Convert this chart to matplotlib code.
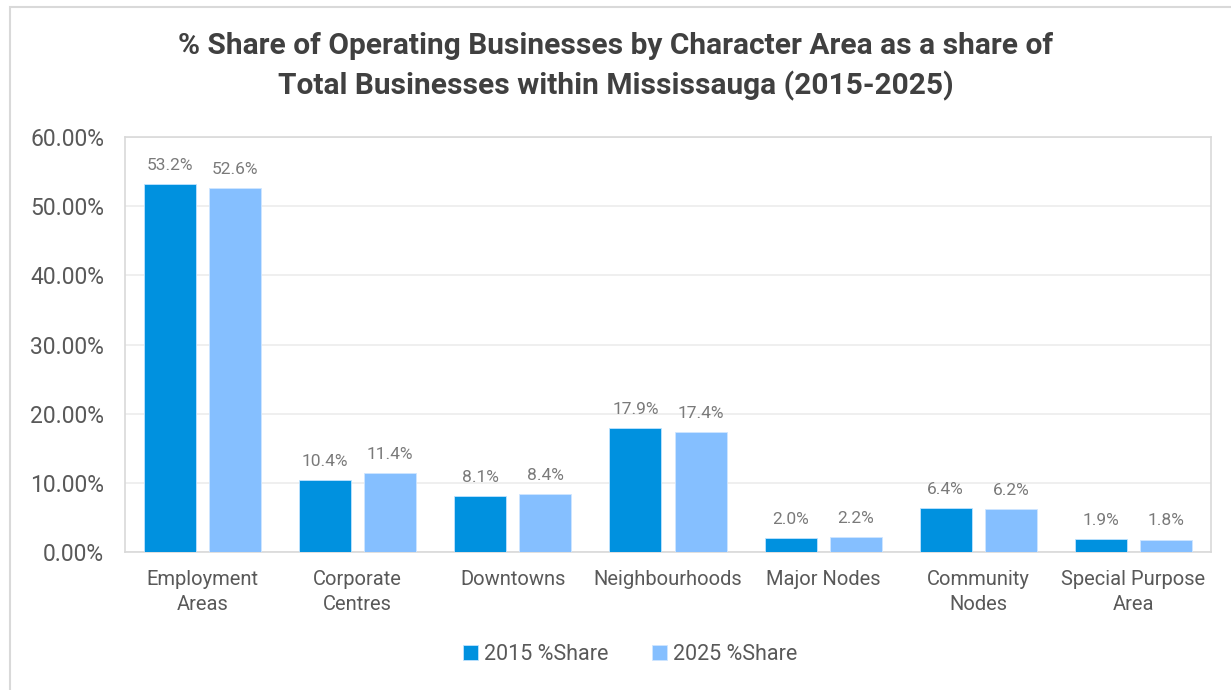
import matplotlib.pyplot as plt
import numpy as np
from matplotlib.patches import Rectangle

categories = ["Employment\nAreas", "Corporate\nCentres", "Downtowns", "Neighbourhoods",
              "Major Nodes", "Community\nNodes", "Special Purpose\nArea"]
share_2015 = [53.2, 10.4, 8.1, 17.9, 2.0, 6.4, 1.9]
share_2025 = [52.6, 11.4, 8.4, 17.4, 2.2, 6.2, 1.8]
series_names = ["2015 %Share", "2025 %Share"]

c2015 = "#0091DF"
c2025 = "#85BFFF"
grey = "#595959"

plt.rcParams['font.family'] = ['Roboto', 'DejaVu Sans']

fig = plt.figure(figsize=(12.31, 6.9), dpi=100)
ax = fig.add_axes([0.1015, 0.2, 0.8823, 0.6014])

x = np.arange(len(categories))
w = 0.335
b1 = ax.bar(x - 0.21, share_2015, w, color=c2015, edgecolor="#bfe3ff", linewidth=0.6,
            label=series_names[0], zorder=3)
b2 = ax.bar(x + 0.21, share_2025, w, color=c2025, edgecolor="#cfe6ff", linewidth=0.6,
            label=series_names[1], zorder=3)

for bars, vals in ((b1, share_2015), (b2, share_2025)):
    for rect, v in zip(bars, vals):
        ax.annotate("{:.1f}%".format(v), (rect.get_x() + rect.get_width() / 2, v),
                    xytext=(0, 8), textcoords="offset points", ha="center", va="bottom",
                    fontsize=12.5, color="#7a7a7a")

ax.set_xlim(-0.5, len(categories) - 0.5)
ax.set_ylim(0, 60)
ax.set_yticks(np.arange(0, 61, 10))
ax.yaxis.set_major_formatter(plt.FuncFormatter(lambda v, loc: "{:.2f}%".format(v)))
ax.set_xticks(x)
ax.set_xticklabels(categories, fontsize=14.5, color=grey, linespacing=1.4)
ax.tick_params(axis="y", labelsize=16.5, colors=grey, length=0, pad=15)
ax.tick_params(axis="x", length=0, pad=13)
ax.grid(True, axis="y", color="#ececec", linewidth=1.2, zorder=0)
for s in ax.spines.values():
    s.set_color("#d9d9d9")
    s.set_linewidth(1.2)

fig.text(0.5, 0.933, "% Share of Operating Businesses by Character Area as a share of",
         ha="center", va="center", fontsize=21.5, fontweight="bold", color="#404040")
fig.text(0.5, 0.876, "Total Businesses within Mississauga (2015-2025)",
         ha="center", va="center", fontsize=21.5, fontweight="bold", color="#404040")

fig.legend(loc="center", bbox_to_anchor=(0.512, 0.052), ncol=2, frameon=False,
           fontsize=15.5, labelcolor=grey, handlelength=0.7, handleheight=0.7,
           handletextpad=0.3, columnspacing=2.0)

# outer chart frame
fig.add_artist(Rectangle((10 / 1231, -0.1), 1.2, (690 - 7) / 690 + 0.1,
                         transform=fig.transFigure, fill=False,
                         edgecolor="#d9d9d9", linewidth=1.5))

fig.savefig("out.png", dpi=100)
